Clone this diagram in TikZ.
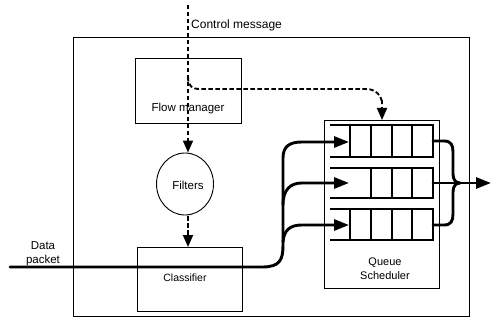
\documentclass[tikz,border=0pt]{standalone}
\usepackage{fontspec}
\setmainfont{Liberation Sans}
\usetikzlibrary{arrows.meta,shapes.geometric}
\begin{document}
\begin{tikzpicture}[x=1pt,y=-1pt,
  box/.style={draw, line width=0.9pt, inner sep=0pt, anchor=north west},
  lbl/.style={font=\fontsize{11.5}{12}\selectfont, inner sep=0pt},
  ctl/.style={line width=1.9pt, dash pattern=on 4.5pt off 2.5pt, -{Triangle[length=12pt,width=10pt]}},
  ctlnotip/.style={line width=1.9pt, dash pattern=on 4.5pt off 2.5pt},
  data/.style={line width=2.9pt, line cap=round},
  dataarrow/.style={data, -{Triangle[length=15pt,width=11pt]}},
  qline/.style={line width=1.2pt}
]
\useasboundingbox (0,0) rectangle (492,323);

% outer box
\node[box, minimum width=396pt, minimum height=279pt] (outer) at (73,37) {};
% flow manager
\node[box, minimum width=106pt, minimum height=65pt] (fm) at (135,58) {};
\node[lbl] (fmt) at (188,109) {Flow manager};
% filters
\node[draw, line width=0.9pt, ellipse, minimum width=57pt, minimum height=62pt, inner sep=0pt] (filt) at (185,184) {};
\node[lbl] (filtt) at (188,185) {Filters};
% classifier
\node[box, minimum width=105pt, minimum height=64pt] (cls) at (137,247) {};
\node[lbl, font=\fontsize{10.5}{12}\selectfont] (clst) at (185,278) {Classifier};
% queue scheduler
\node[box, minimum width=115pt, minimum height=168pt] (qs) at (324,120) {};
\node[lbl, align=center, font=\fontsize{11}{14}\selectfont] (qst) at (385,269) {Queue\\Scheduler};

% labels
\node[lbl, anchor=west, font=\fontsize{12}{13}\selectfont] (cm) at (191,25) {Control message};
\node[lbl, align=center, font=\fontsize{11.5}{14}\selectfont] (dp) at (43,254) {Data\\packet};

% queues
\foreach \yt/\yb in {125/157, 209/240} {
  \draw[qline] (330,\yt) -- (433,\yt) -- (433,\yb) -- (330,\yb);
  \foreach \xx in {350,371,392,412} \draw[qline] (\xx,\yt) -- (\xx,\yb);
}
\draw[qline] (330,168) -- (433,168) -- (433,198) -- (330,198);
\foreach \xx in {371,392,412} \draw[qline] (\xx,168) -- (\xx,198);

% coordinates
\coordinate (cmtop) at (188,5);
\coordinate (cmsplit) at (188,77);
\coordinate (qstop) at (382,120);
\coordinate (din) at (10,267);
\coordinate (q1in) at (349,142);
\coordinate (q2in) at (349,183);
\coordinate (q3in) at (349,225);
\coordinate (q1out) at (433,141);
\coordinate (q2out) at (433,183);
\coordinate (q3out) at (433,225);
\coordinate (bj) at (460,183);
\coordinate (outend) at (491,183);

% control dashed lines
\draw[ctl] (cmtop) -- (filt.north -| cmtop);
\draw[ctlnotip] (cmsplit) .. controls (188,86) and (192,89) .. (200,89) -- (366,89) .. controls (376,89) and (382,96) .. (382,104);
\draw[ctl] (382,100) -- (qstop);
\draw[ctl] (188,216) -- (cls.north -| 188,0);

% data lines
\draw[dataarrow] (din) -- (262,267) .. controls (280,267) and (283,260) .. (283,245) -- (283,158) .. controls (283,146) and (290,142) .. (302,142) -- (q1in);
\draw[dataarrow] (283,205) .. controls (283,190) and (290,183) .. (302,183) -- (q2in);
\draw[dataarrow] (283,242) .. controls (284,230) and (290,225) .. (302,225) -- (q3in);

% output brace
\draw[data] (q1out) -- (444,141) .. controls (451,141) and (453,145) .. (453,152) -- (453,174) .. controls (453,180) and (456,183) .. (bj);
\draw[data] (q3out) -- (444,225) .. controls (451,225) and (453,221) .. (453,214) -- (453,192) .. controls (453,186) and (456,183) .. (bj);
\draw[dataarrow] (q2out) -- (outend);
\end{tikzpicture}
\end{document}
